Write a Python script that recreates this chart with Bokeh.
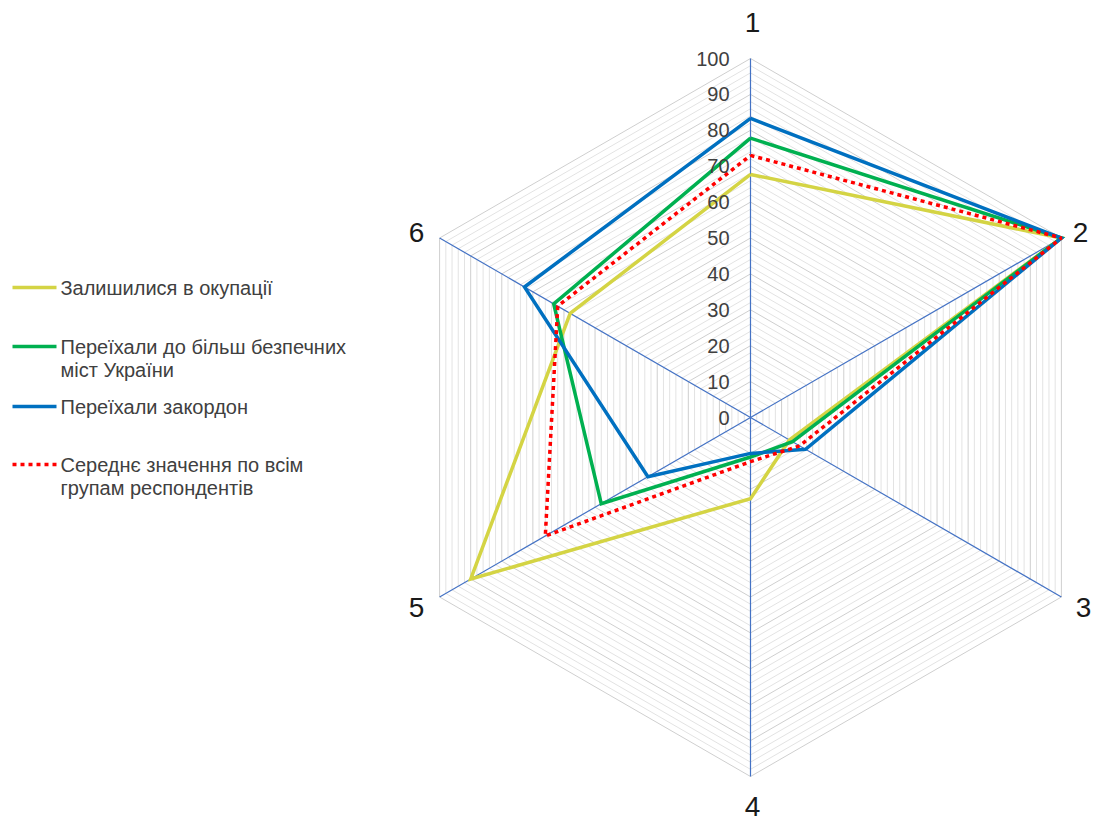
import math
from bokeh.plotting import figure
from bokeh.models import Range1d
from bokeh.core.properties import value
from bokeh.embed import file_html
from bokeh.resources import INLINE

# ---- data ----
axis_labels = ["1", "2", "3", "4", "5", "6"]
series_names = [
    ["Залишилися в окупації"],
    ["Переїхали до більш безпечних", "міст України"],
    ["Переїхали закордон"],
    ["Середнє значення по всім", "групам респондентів"],
]
stayed = [67.7, 100, 12.5, 22.6, 90, 58]
moved_ukraine = [77.8, 100, 13.5, 11, 48, 63.3]
moved_abroad = [83.3, 100, 17.7, 10, 33, 72.7]
average = [73, 100, 15.8, 12.3, 66, 62]
tick_values = [0, 10, 20, 30, 40, 50, 60, 70, 80, 90, 100]

# ---- geometry ----
W, H = 1097, 821
OX, OY = 0, 0              # picture pixel of figure's top-left
CX, CY = 750, 417          # picture pixel of chart centre
S = 3.59                   # pixels per unit
def dx(px): return (px - CX) / S
def dy(py): return (CY - py) / S

p = figure(width=W, height=H, output_backend="svg", toolbar_location=None,
           x_axis_type=None, y_axis_type=None, min_border=0,
           x_range=Range1d(dx(OX), dx(OX + W)), y_range=Range1d(dy(OY + H), dy(OY)))
p.outline_line_color = None
p.grid.visible = False
p.background_fill_color = "white"

angles = [math.radians(90 - 60 * k) for k in range(6)]

def poly(vals):
    xs = [v * math.cos(a) for v, a in zip(vals, angles)]
    ys = [v * math.sin(a) for v, a in zip(vals, angles)]
    return xs + xs[:1], ys + ys[:1]

# grid hexagons
minor_xs, minor_ys, major_xs, major_ys = [], [], [], []
for lvl in range(2, 101, 2):
    xs, ys = poly([lvl] * 6)
    if lvl % 10 == 0:
        major_xs.append(xs); major_ys.append(ys)
    else:
        minor_xs.append(xs); minor_ys.append(ys)
p.multi_line(minor_xs, minor_ys, line_color="#e3e3e3", line_width=1)
p.multi_line(major_xs, major_ys, line_color="#cfcfcf", line_width=1)

# spokes
p.multi_line([[0, 100 * math.cos(a)] for a in angles],
             [[0, 100 * math.sin(a)] for a in angles],
             line_color="#4472c4", line_width=1.2)

# series
colors = ["#d4d444", "#00b050", "#0070c0", "#ff0000"]
data = [stayed, moved_ukraine, moved_abroad, average]
for vals, col, i in zip(data, colors, range(4)):
    xs, ys = poly(vals)
    if i == 3:
        p.line(xs, ys, line_color=col, line_width=3.5, line_dash="4 4")
    else:
        p.line(xs, ys, line_color=col, line_width=3.5, line_join="miter")

# tick labels
p.text(x=[dx(729)] * len(tick_values), y=tick_values, text=[str(t) for t in tick_values],
       text_align="right", text_baseline="middle", text_font=value("Liberation Sans"),
       text_font_size="20px", text_color="#404040")

# axis labels
lab_pos = [(752, 22), (1080, 232), (1083, 607), (752, 806), (416, 607), (416, 232)]
p.text(x=[dx(a) for a, b in lab_pos], y=[dy(b) for a, b in lab_pos], text=axis_labels,
       text_align="center", text_baseline="middle", text_font=value("Liberation Sans"),
       text_font_size="28px", text_color="#1a1a1a")

# legend
leg_y = [287, 346, 406, 464]
for i, (ly, names) in enumerate(zip(leg_y, series_names)):
    if i == 3:
        p.line([dx(12), dx(56)], [dy(ly), dy(ly)], line_color=colors[i], line_width=3.5, line_dash="4 4")
    else:
        p.line([dx(12), dx(56)], [dy(ly), dy(ly)], line_color=colors[i], line_width=3.5)
    for j, t in enumerate(names):
        p.text(x=[dx(60)], y=[dy(ly + 23 * j)], text=[t], text_align="left",
               text_baseline="middle", text_font=value("Liberation Sans"),
               text_font_size="20px", text_color="#404040")

open("out.html", "w").write(file_html(p, INLINE))
